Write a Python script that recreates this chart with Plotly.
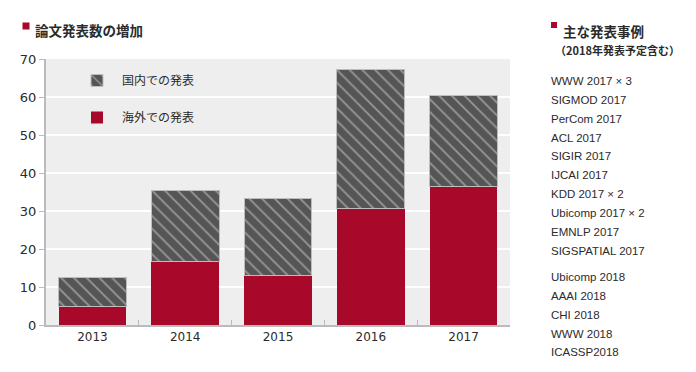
import plotly.graph_objects as go

years = ["2013", "2014", "2015", "2016", "2017"]
overseas = [5.0, 16.7, 12.9, 30.6, 36.5]
domestic = [7.5, 18.7, 20.5, 36.7, 24.0]
y_ticks = [0, 10, 20, 30, 40, 50, 60, 70]

title_left = "論文発表数の増加"
title_right = "主な発表事例"
subtitle_right = "（2018年発表予定含む）"
group_2017 = ["WWW 2017 × 3", "SIGMOD 2017", "PerCom 2017", "ACL 2017", "SIGIR 2017",
              "IJCAI 2017", "KDD 2017 × 2", "Ubicomp 2017 × 2", "EMNLP 2017", "SIGSPATIAL 2017"]
group_2018 = ["Ubicomp 2018", "AAAI 2018", "CHI 2018", "WWW 2018", "ICASSP2018"]

RED = "#a8082a"
W, H = 696, 372
ML, MR, MT, MB = 46, 186, 59, 47
PW, PH = W - ML - MR, H - MT - MB

def px(x):
    return (x - ML) / PW

def py(y):
    return 1 - (y - MT) / PH

CJK = "Noto Sans CJK JP"
TXT = "#2b2b2b"

fig = go.Figure()
fig.add_trace(go.Bar(
    x=years, y=overseas, name="海外での発表",
    marker=dict(color=RED, line=dict(width=0)),
    legendgroup="b", legendrank=2,
))
fig.add_trace(go.Bar(
    x=years, y=domestic, name="国内での発表",
    marker=dict(color="#555555",
                pattern=dict(shape="\\", fgcolor="#dadada", bgcolor="#555555",
                             size=9, solidity=0.2),
                line=dict(width=1, color="#bdbdbd")),
    legendgroup="a", legendrank=1,
))

fig.update_layout(
    width=W, height=H,
    margin=dict(l=ML, r=MR, t=MT, b=MB),
    barmode="stack",
    bargap=0.27,
    paper_bgcolor="white",
    plot_bgcolor="#eeeeee",
    font=dict(family="DejaVu Sans", size=12, color=TXT),
    showlegend=True,
    legend=dict(
        x=px(72), y=py(66), xanchor="left", yanchor="top",
        bgcolor="rgba(0,0,0,0)",
        traceorder="grouped",
        tracegroupgap=18,
        font=dict(family=CJK, size=12, color=TXT),
        itemwidth=40,
    ),
    xaxis=dict(
        type="category",
        showline=True, linecolor="#bbbbbb", linewidth=2,
        ticks="inside", tickson="boundaries", ticklen=5, tickcolor="#bbbbbb",
        showgrid=False,
        tickfont=dict(family="DejaVu Sans", size=12, color=TXT),
    ),
    yaxis=dict(
        range=[0, 70], tickvals=y_ticks,
        showline=True, linecolor="#bbbbbb", linewidth=2,
        ticks="outside", ticklen=5, tickcolor="#bbbbbb",
        showgrid=True, gridcolor="#ffffff", gridwidth=1.5,
        zeroline=False,
        tickfont=dict(family="DejaVu Sans", size=13, color=TXT),
    ),
)

annotations = []
shapes = []

# left title
shapes.append(dict(type="rect", xref="paper", yref="paper",
                   x0=px(22.5), x1=px(29.5), y0=py(29.5), y1=py(22.5),
                   fillcolor=RED, line=dict(width=0)))
annotations.append(dict(text="<b>" + title_left + "</b>", xref="paper", yref="paper",
                        x=px(33), y=py(30), xanchor="left", yanchor="middle",
                        showarrow=False, font=dict(family=CJK, size=13.5, color=TXT)))

# right title
shapes.append(dict(type="rect", xref="paper", yref="paper",
                   x0=px(551), x1=px(557), y0=py(28), y1=py(22),
                   fillcolor=RED, line=dict(width=0)))
annotations.append(dict(text="<b>" + title_right + "</b>", xref="paper", yref="paper",
                        x=px(561), y=py(31), xanchor="left", yanchor="middle",
                        showarrow=False, font=dict(family=CJK, size=13.5, color=TXT)))
annotations.append(dict(text="<b>" + subtitle_right + "</b>", xref="paper", yref="paper",
                        x=px(553), y=py(50), xanchor="left", yanchor="middle",
                        showarrow=False, font=dict(family=CJK, size=11, color=TXT)))

for i, t in enumerate(group_2017):
    annotations.append(dict(text=t, xref="paper", yref="paper",
                            x=px(549), y=py(81 + 18.85 * i), xanchor="left", yanchor="middle",
                            showarrow=False,
                            font=dict(family="Liberation Sans", size=11.5, color=TXT)))
for i, t in enumerate(group_2018):
    annotations.append(dict(text=t, xref="paper", yref="paper",
                            x=px(549), y=py(277.3 + 18.75 * i), xanchor="left", yanchor="middle",
                            showarrow=False,
                            font=dict(family="Liberation Sans", size=11.5, color=TXT)))

fig.update_layout(annotations=annotations, shapes=shapes)
fig.write_html("out.html")
